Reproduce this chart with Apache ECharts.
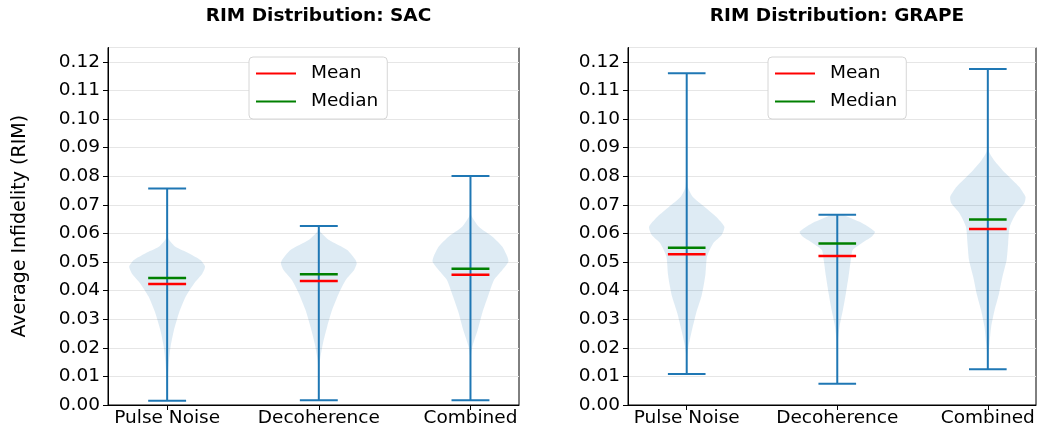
<!DOCTYPE html>
<html>
<head>
<meta charset="utf-8">
<script src="https://cdn.jsdelivr.net/npm/echarts@6/dist/echarts.min.js"></script>
<style>
  html, body { margin: 0; padding: 0; background: #fff; }
  #chart { width: 1038px; height: 434px; }
</style>
</head>
<body>
<div id="chart"></div>
<script>
// categories and summary values
var categories = ['Pulse Noise', 'Decoherence', 'Combined'];
var titles = ['RIM Distribution: SAC', 'RIM Distribution: GRAPE'];

var sacMin = [0.0015, 0.0017, 0.0017];
var sacMax = [0.0757, 0.0626, 0.0801];
var sacMean = [0.0423, 0.0434, 0.0455];
var sacMedian = [0.0444, 0.0457, 0.0476];

var grapeMin = [0.0108, 0.0074, 0.0125];
var grapeMax = [0.1160, 0.0665, 0.1175];
var grapeMean = [0.0527, 0.0521, 0.0615];
var grapeMedian = [0.0550, 0.0565, 0.0649];

// violin outlines: [value, relative density]
var sacPulseShape = [[0.0015, 0], [0.010, 0.02], [0.0157, 0.05], [0.0204, 0.09], [0.0262, 0.18], [0.0321, 0.31], [0.0379, 0.49], [0.0425, 0.71], [0.0460, 0.93], [0.0484, 1.0], [0.0507, 0.88], [0.0530, 0.58], [0.0553, 0.22], [0.0583, 0.03], [0.065, 0.005], [0.0757, 0]];
var sacDecoShape = [[0.0017, 0], [0.010, 0.01], [0.0157, 0.03], [0.0216, 0.11], [0.0274, 0.22], [0.0332, 0.35], [0.0391, 0.53], [0.0437, 0.71], [0.0472, 0.93], [0.0495, 1.0], [0.0507, 0.97], [0.0542, 0.75], [0.0577, 0.27], [0.0606, 0.04], [0.0626, 0]];
var sacCombShape = [[0.0017, 0], [0.012, 0.005], [0.017, 0.01], [0.0204, 0.05], [0.0262, 0.19], [0.0321, 0.31], [0.0379, 0.46], [0.0437, 0.62], [0.0472, 0.84], [0.0501, 1.0], [0.0519, 0.97], [0.0553, 0.84], [0.0588, 0.58], [0.0623, 0.22], [0.0664, 0.02], [0.072, 0.005], [0.0801, 0]];

var grapePulseShape = [[0.0108, 0], [0.017, 0.01], [0.0204, 0.045], [0.0262, 0.14], [0.0321, 0.25], [0.0379, 0.39], [0.0425, 0.46], [0.0460, 0.50], [0.0519, 0.54], [0.0565, 0.70], [0.0594, 0.93], [0.0623, 1.0], [0.0658, 0.78], [0.0693, 0.47], [0.0728, 0.16], [0.0763, 0.03], [0.085, 0.008], [0.100, 0.003], [0.1160, 0]];
var grapeDecoShape = [[0.0074, 0], [0.015, 0.005], [0.0227, 0.02], [0.0274, 0.06], [0.0332, 0.15], [0.0391, 0.23], [0.0449, 0.30], [0.0507, 0.36], [0.0542, 0.41], [0.0565, 0.64], [0.0588, 0.91], [0.0606, 1.0], [0.0635, 0.68], [0.0658, 0.27], [0.0665, 0.15]];
var grapeCombShape = [[0.0125, 0], [0.017, 0.01], [0.0216, 0.045], [0.0274, 0.09], [0.0332, 0.18], [0.0391, 0.30], [0.0449, 0.39], [0.0507, 0.50], [0.0565, 0.54], [0.0623, 0.58], [0.0670, 0.75], [0.0705, 0.97], [0.0728, 1.0], [0.0763, 0.83], [0.0810, 0.47], [0.0857, 0.16], [0.0886, 0.03], [0.095, 0.008], [0.105, 0.003], [0.1175, 0]];

var BLUE = '#1f77b4';
var HALF = 0.25;   // max half width of a violin (x units)
var CAP = 0.125;   // half width of caps / mean / median lines
var FONT = 'DejaVu Sans';
var FS = 18.5;

function rows(mins, maxs) {
  return categories.map(function (c, i) { return [i + 1, mins[i], maxs[i]]; });
}

function violinSeries(g, shapes, mins, maxs) {
  return {
    type: 'custom', xAxisIndex: g, yAxisIndex: g, silent: true, z: 1,
    data: rows(mins, maxs), encode: { x: 0, y: [1, 2] },
    renderItem: function (params, api) {
      var pos = api.value(0);
      var shape = shapes[params.dataIndex];
      var left = shape.map(function (p) { return api.coord([pos - HALF * p[1], p[0]]); });
      var right = shape.slice().reverse().map(function (p) { return api.coord([pos + HALF * p[1], p[0]]); });
      return {
        type: 'polygon',
        shape: { points: left.concat(right), smooth: 0.2 },
        style: { fill: 'rgba(31,119,180,0.15)' }
      };
    }
  };
}

function whiskerSeries(g, mins, maxs) {
  return {
    type: 'custom', xAxisIndex: g, yAxisIndex: g, silent: true, z: 2,
    data: rows(mins, maxs), encode: { x: 0, y: [1, 2] },
    renderItem: function (params, api) {
      var pos = api.value(0), lo = api.value(1), hi = api.value(2);
      var style = { stroke: BLUE, lineWidth: 2 };
      function seg(a, b) {
        return { type: 'line', shape: { x1: a[0], y1: a[1], x2: b[0], y2: b[1] }, style: style };
      }
      return {
        type: 'group',
        children: [
          seg(api.coord([pos, lo]), api.coord([pos, hi])),
          seg(api.coord([pos - CAP, lo]), api.coord([pos + CAP, lo])),
          seg(api.coord([pos - CAP, hi]), api.coord([pos + CAP, hi]))
        ]
      };
    }
  };
}

function markSeries(g, name, color, vals, z) {
  return {
    type: 'custom', name: name, xAxisIndex: g, yAxisIndex: g, silent: true, z: z,
    itemStyle: { color: color },
    data: vals.map(function (v, i) { return [i + 1, v]; }), encode: { x: 0, y: 1 },
    renderItem: function (params, api) {
      var pos = api.value(0), v = api.value(1);
      var a = api.coord([pos - CAP, v]), b = api.coord([pos + CAP, v]);
      return { type: 'line', shape: { x1: a[0], y1: a[1], x2: b[0], y2: b[1] }, style: { stroke: color, lineWidth: 2.5 } };
    }
  };
}

var gridBoxes = [
  { left: 108, width: 411 },
  { left: 628, width: 408 }
];

function xAxis(g) {
  return {
    type: 'value', gridIndex: g, min: 0.61, max: 3.32,
    axisLine: { show: true, lineStyle: { color: '#000', width: 1 } },
    axisTick: { show: true, customValues: [1, 2, 3], length: 5, lineStyle: { color: '#000' } },
    axisLabel: {
      customValues: [1, 2, 3], color: '#000', fontSize: FS, fontFamily: FONT, margin: 4,
      formatter: function (v) { return categories[Math.round(v) - 1]; }
    },
    splitLine: { show: false }
  };
}

function yAxis(g) {
  var ax = {
    type: 'value', gridIndex: g, min: 0, max: 0.125, interval: 0.01,
    axisLine: { show: true, lineStyle: { color: '#000', width: 1 } },
    axisTick: { show: true, length: 5, lineStyle: { color: '#000' } },
    axisLabel: {
      color: '#000', fontSize: FS, fontFamily: FONT, margin: 8, showMaxLabel: false,
      formatter: function (v) { return v.toFixed(2); }
    },
    splitLine: { show: true, lineStyle: { color: '#e6e6e6', width: 1 } }
  };
  if (g === 0) {
    ax.name = 'Average Infidelity (RIM)';
    ax.nameLocation = 'middle';
    ax.nameGap = 78;
    ax.nameTextStyle = { color: '#000', fontSize: 19, fontFamily: FONT };
  }
  return ax;
}

function legend(left) {
  return {
    orient: 'vertical', left: left, top: 57, icon: 'rect', itemWidth: 40, itemHeight: 2,
    itemGap: 9, selectedMode: false, data: ['Mean', 'Median'],
    textStyle: { color: '#000', fontSize: FS, fontFamily: FONT, padding: [0, 0, 0, 10] },
    backgroundColor: '#fff', borderColor: '#d6d6d6', borderWidth: 1, borderRadius: 4,
    padding: [7, 9, 8, 7]
  };
}

var chart = echarts.init(document.getElementById('chart'), null, { renderer: 'canvas' });
chart.setOption({
  backgroundColor: '#fff',
  animation: false,
  title: gridBoxes.map(function (b, g) {
    return {
      text: titles[g], left: b.left + b.width / 2, top: 2, textAlign: 'center',
      textStyle: { color: '#000', fontSize: 18.5, fontWeight: 'bold', fontFamily: FONT }
    };
  }),
  legend: [legend(249), legend(768)],
  grid: gridBoxes.map(function (b) {
    return { left: b.left, width: b.width, top: 47.5, bottom: 29, show: true, borderColor: '#000', borderWidth: 1 };
  }),
  xAxis: [xAxis(0), xAxis(1)],
  yAxis: [yAxis(0), yAxis(1)],
  series: [
    violinSeries(0, [sacPulseShape, sacDecoShape, sacCombShape], sacMin, sacMax),
    whiskerSeries(0, sacMin, sacMax),
    markSeries(0, 'Mean', 'red', sacMean, 3),
    markSeries(0, 'Median', 'green', sacMedian, 4),
    violinSeries(1, [grapePulseShape, grapeDecoShape, grapeCombShape], grapeMin, grapeMax),
    whiskerSeries(1, grapeMin, grapeMax),
    markSeries(1, 'Mean', 'red', grapeMean, 3),
    markSeries(1, 'Median', 'green', grapeMedian, 4)
  ]
});
</script>
</body>
</html>
